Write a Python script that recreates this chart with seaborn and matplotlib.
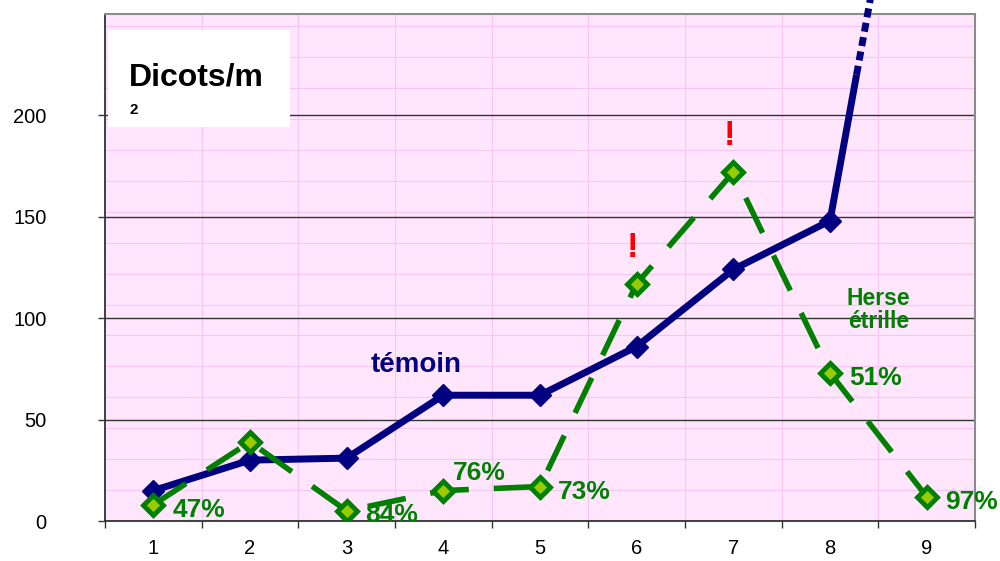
# Dicots/m2 : témoin vs herse étrille

import numpy as np
import pandas as pd
import matplotlib
matplotlib.use('Agg')
import matplotlib.pyplot as plt
from matplotlib.ticker import MultipleLocator
from matplotlib.patches import Rectangle
import seaborn as sns

# data
passages = [1, 2, 3, 4, 5, 6, 7, 8, 9]
temoin = [15, 30, 31, 62, 62, 86, 124, 148, 410]
herse = [8, 39, 5, 15, 17, 117, 172, 73, 12]
efficacite = ['47%', '', '84%', '76%', '73%', '', '', '51%', '97%']
alertes = [6, 7]
y_ticks = [0, 50, 100, 150, 200]

# label offsets (points)
label_dx = [14, 0, 13, 7, 13, 0, 0, 14, 13]
label_dy = [-4, 0, -3, 13, -4, 0, 0, -4, -4]

navy = '#000080'
green = '#008000'
lime = '#99cc00'

sns.set_style('white')
plt.rcParams['font.family'] = ['Liberation Sans', 'DejaVu Sans']

fig = plt.figure(figsize=(10, 5.61), dpi=100)
ax = fig.add_axes([0.105, 0.0713, 0.87, 0.904])
ax.set_facecolor('#ffe6fd')

# faint pattern grid
ax.xaxis.set_minor_locator(MultipleLocator(1 / 3))
ax.yaxis.set_minor_locator(MultipleLocator(250 / 16.4))
ax.grid(which='minor', color='#f8c4f4', lw=0.8)
ax.grid(which='major', axis='y', color='#333333', lw=1)
ax.grid(which='major', axis='x', visible=False)
ax.set_axisbelow(True)

# témoin (points 1-8), then break to off-chart point 9
df_t = pd.DataFrame({'x': passages[:8], 'y': temoin[:8]})
sns.lineplot(data=df_t, x='x', y='y', ax=ax, color=navy, lw=5,
             marker='D', markersize=11, markeredgecolor=navy,
             markeredgewidth=1, zorder=4)
y_break = 220
t = (y_break - temoin[7]) / (temoin[8] - temoin[7])
x_break = passages[7] + t * (passages[8] - passages[7])
ax.plot([passages[7], x_break], [temoin[7], y_break], color=navy, lw=5,
        solid_capstyle='butt', zorder=4)
ax.plot([x_break, passages[8]], [y_break, temoin[8]], color=navy, lw=5,
        linestyle=(0, (1.3, 0.8)), clip_on=False, zorder=4)

# herse étrille
df_h = pd.DataFrame({'x': passages, 'y': herse})
sns.lineplot(data=df_h, x='x', y='y', ax=ax, color=green, lw=4,
             linestyle=(0, (7, 4.5)), marker='D', markersize=10,
             markerfacecolor=lime, markeredgecolor=green,
             markeredgewidth=3.5, zorder=5)

for x, y, lab, dx, dy in zip(passages, herse, efficacite, label_dx, label_dy):
    if lab:
        ax.annotate(lab, (x, y), xytext=(dx, dy), textcoords='offset points',
                    ha='left', va='center', fontsize=19, fontweight='bold',
                    color=green, zorder=6)

for a in alertes:
    ax.annotate('!', (a, herse[a - 1]), xytext=(-3, 26), textcoords='offset points',
                ha='center', va='center', fontsize=25, fontweight='bold',
                color='red')

ax.text(3.72, 77, 'témoin', fontsize=20, fontweight='bold', color=navy,
        ha='center', va='center')
ax.text(8.5, 104, 'Herse\nétrille', fontsize=16.5, fontweight='bold',
        color=green, ha='center', va='center', linespacing=1.05)

# title box
ax.add_patch(Rectangle((0.003, 0.777), 0.21, 0.191, transform=ax.transAxes,
                       facecolor='white', edgecolor='none', zorder=7))
ax.text(0.028, 0.875, 'Dicots/m', transform=ax.transAxes, fontsize=23,
        fontweight='bold', ha='left', va='center', color='black', zorder=8)
ax.text(0.028, 0.81, '2', transform=ax.transAxes, fontsize=11,
        fontweight='bold', ha='left', va='center', color='black', zorder=8)

# axes
ax.set_xlim(0.5, 9.5)
ax.set_ylim(0, 250)
ax.set_yticks(y_ticks)
ax.set_xticks(passages)
ax.set_xticks(np.arange(0.5, 10, 1), minor=True)
ax.tick_params(axis='x', which='major', length=0, pad=13, labelsize=14.5,
               labelcolor='black')
ax.tick_params(axis='x', which='minor', length=5, width=1, color='#333333',
               direction='out', bottom=True)
ax.tick_params(axis='y', which='major', length=5, width=1, color='#333333',
               direction='out', left=True, pad=37, labelsize=14.5,
               labelcolor='black')
ax.tick_params(axis='y', which='minor', length=0)
ax.set_xlabel('')
ax.set_ylabel('')

for side in ['left', 'bottom']:
    ax.spines[side].set_color('#333333')
    ax.spines[side].set_linewidth(1.3)
for side in ['top', 'right']:
    ax.spines[side].set_visible(True)
    ax.spines[side].set_color('#8c8c8c')
    ax.spines[side].set_linewidth(1.5)

fig.savefig('out.png', dpi=100)
